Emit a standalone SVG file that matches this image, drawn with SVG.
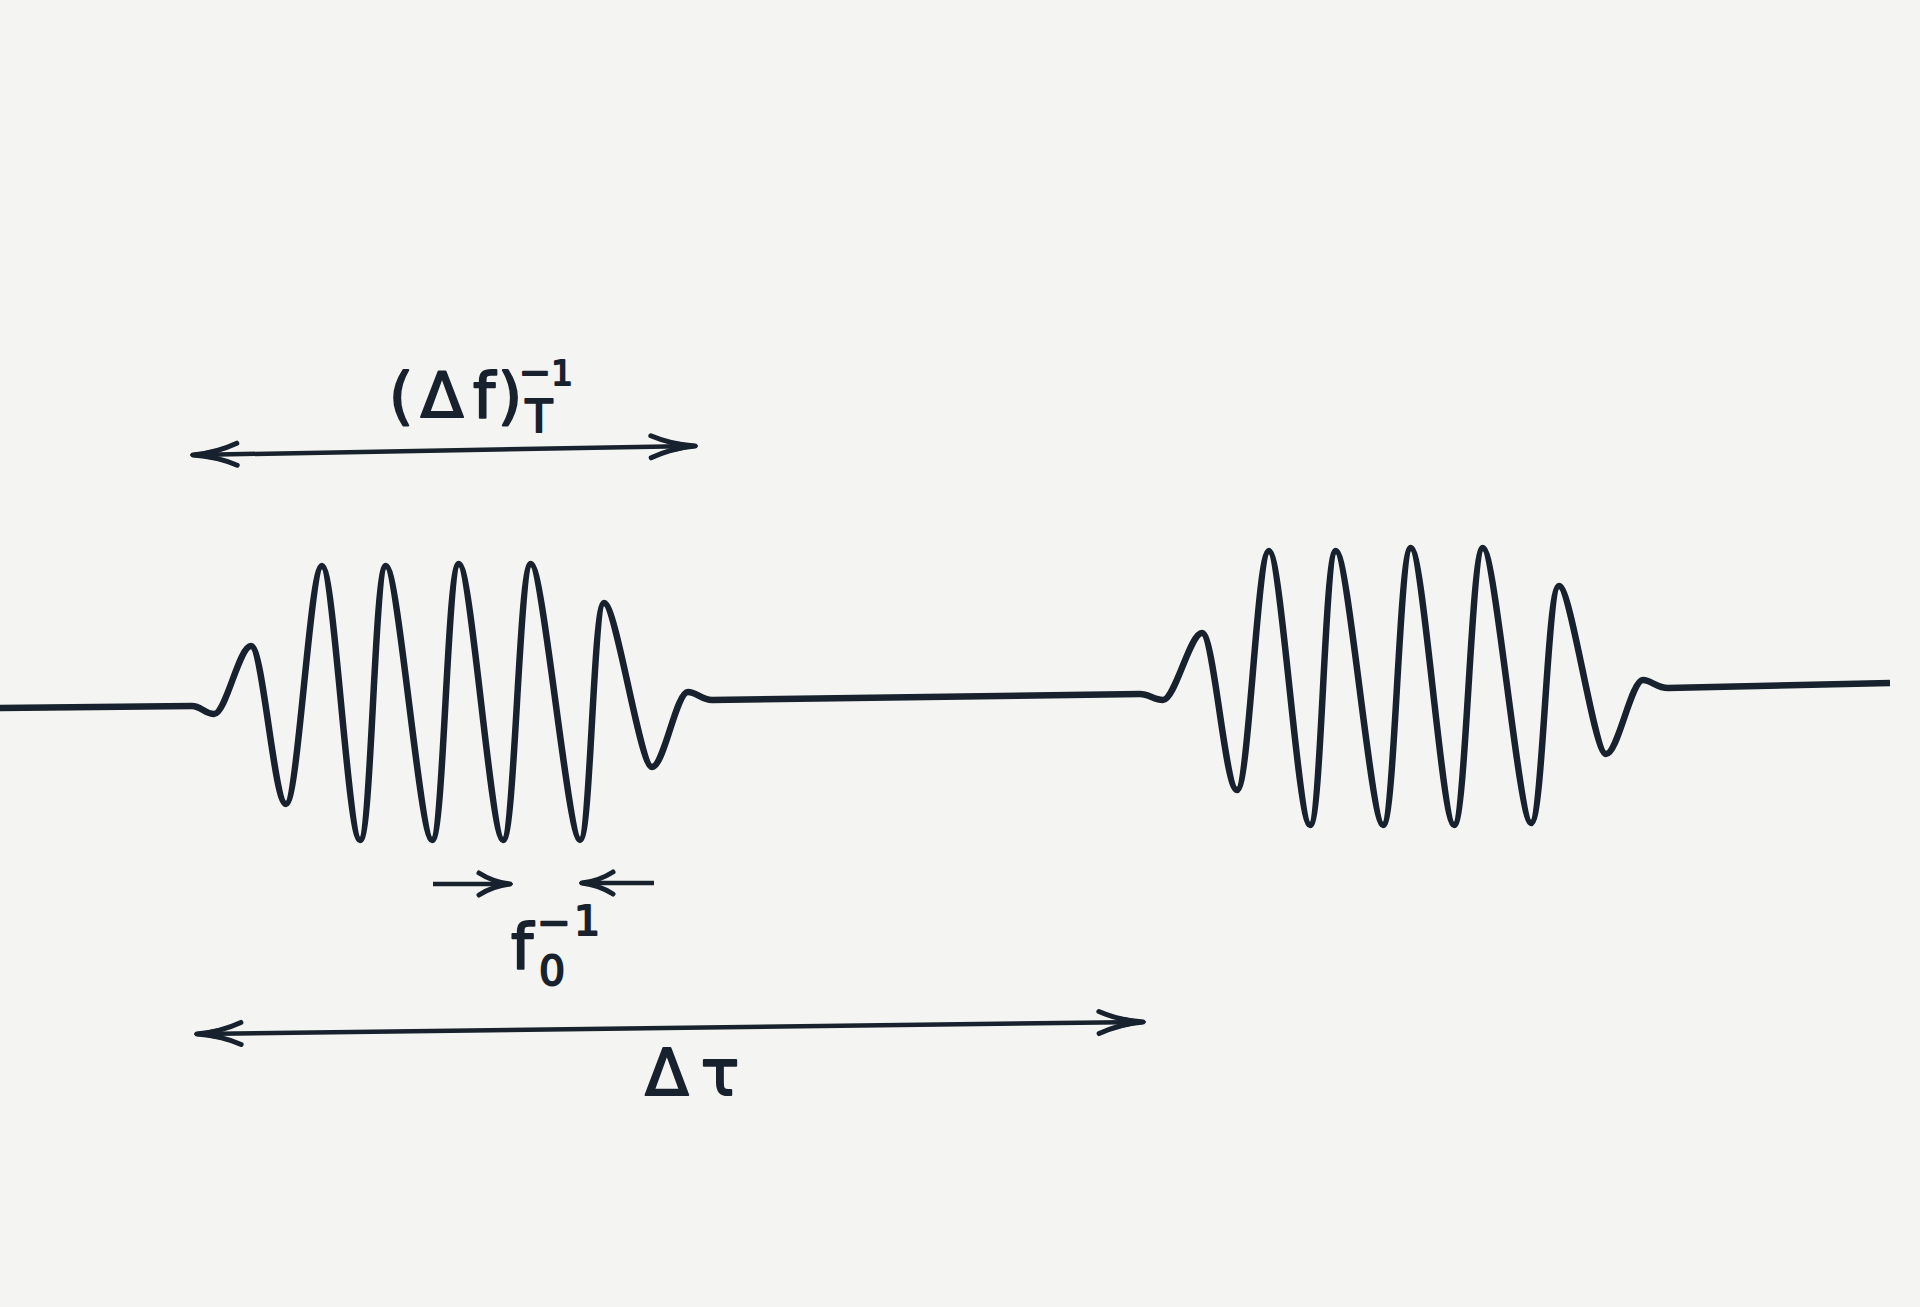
<svg xmlns="http://www.w3.org/2000/svg" width="1920" height="1307" viewBox="0 0 1920 1307">
  <style>
    .wave { fill: none; stroke: #17222e; stroke-width: 6.5; stroke-linejoin: round; stroke-linecap: butt; }
    .dim { fill: none; stroke: #17222e; stroke-width: 4.5; }
    .lbl { font-family: 'DejaVu Sans', 'Liberation Sans', sans-serif; fill: #17222e; stroke: #17222e; stroke-width: 2; stroke-linejoin: round; text-anchor: middle; }
  </style>
  <defs>
    <marker id="ah" viewBox="-52 -18 56 36" refX="0" refY="0" markerWidth="56" markerHeight="36" markerUnits="userSpaceOnUse" orient="auto-start-reverse">
      <path d="M0 0 Q-24 -2 -44 -11 M0 0 Q-24 2 -44 11" fill="none" stroke="#17222e" stroke-width="5" stroke-linecap="round"/>
      <path d="M2 0 L-24 -5 L-24 5 Z" fill="#17222e" stroke="#17222e" stroke-width="2" stroke-linejoin="round"/>
    </marker>
    <marker id="ahs" viewBox="-40 -16 44 32" refX="0" refY="0" markerWidth="44" markerHeight="32" markerUnits="userSpaceOnUse" orient="auto-start-reverse">
      <path d="M0 0 Q-17 -2 -31 -11 M0 0 Q-17 2 -31 11" fill="none" stroke="#17222e" stroke-width="5" stroke-linecap="round"/>
      <path d="M2 0 L-17 -4 L-17 4 Z" fill="#17222e" stroke="#17222e" stroke-width="2" stroke-linejoin="round"/>
    </marker>
  </defs>
  <rect x="0" y="0" width="1920" height="1307" fill="#f4f4f2"/>

  <g id="pulse-1">
    <path class="wave" d="M0 708 L192 706 C201 706 205 714 214 714 C226 714 239 646 251 646 C263 646 274 804 286 804 C298 804 310 566 322 566 C334 566 348 840 360 840 C371.7 840 374.3 566 386 566 C398 566 420 840 432 840 C444 840 447 564 459 564 C471 564 491 840 503 840 C515 840 519 564 531 564 C543 564 568 840 580 840 C590.8 840 593.2 603 604 603 C616 603 640 767 652 767 C664 767 676 692 688 692 C696 692 702 700 712 700"/>
  </g>

  <g id="pulse-2">
    <path class="wave" d="M712 700 L1140 694 C1149 694 1154 700 1163 700 C1175 700 1190 633 1202 633 C1214 633 1225 790 1237 790 C1249 790 1257 551 1269 551 C1281 551 1298 825 1310 825 C1321.7 825 1324.3 551 1336 551 C1348 551 1371 825 1383 825 C1395 825 1399 548 1411 548 C1423 548 1442 825 1454 825 C1466 825 1471 548 1483 548 C1495 548 1519 823 1531 823 C1543 823 1547 586 1559 586 C1571 586 1594 754 1606 754 C1618 754 1631 680 1643 680 C1651 680 1657 688 1668 688 L1890 683"/>
  </g>

  <g id="connectors">
    <line id="arrow-df" class="dim" x1="193" y1="455" x2="695" y2="446" marker-start="url(#ah)" marker-end="url(#ah)"/>
    <line id="arrow-f0-left" class="dim" x1="433" y1="884" x2="510" y2="884" marker-end="url(#ahs)"/>
    <line id="arrow-f0-right" class="dim" x1="654" y1="883" x2="582" y2="883" marker-end="url(#ahs)"/>
    <line id="arrow-dtau" class="dim" x1="197" y1="1034" x2="1143" y2="1022" marker-start="url(#ah)" marker-end="url(#ah)"/>
  </g>

  <g id="label-df">
    <text class="lbl" font-size="63" x="401 442 484 510" y="417">(Δf)</text>
    <text class="lbl" font-size="38" x="535" y="385">−</text>
    <text class="lbl" font-size="34" x="562" y="385">1</text>
    <text class="lbl" font-size="44" x="539" y="432">T</text>
  </g>

  <g id="label-f0">
    <text class="lbl" font-size="63" x="522" y="968">f</text>
    <text class="lbl" font-size="40" x="554" y="936">−</text>
    <text class="lbl" font-size="41" x="587" y="935">1</text>
    <text class="lbl" font-size="41" x="552" y="985">0</text>
  </g>

  <g id="label-dtau">
    <text class="lbl" font-size="64" x="667 720" y="1095">Δτ</text>
  </g>
</svg>
